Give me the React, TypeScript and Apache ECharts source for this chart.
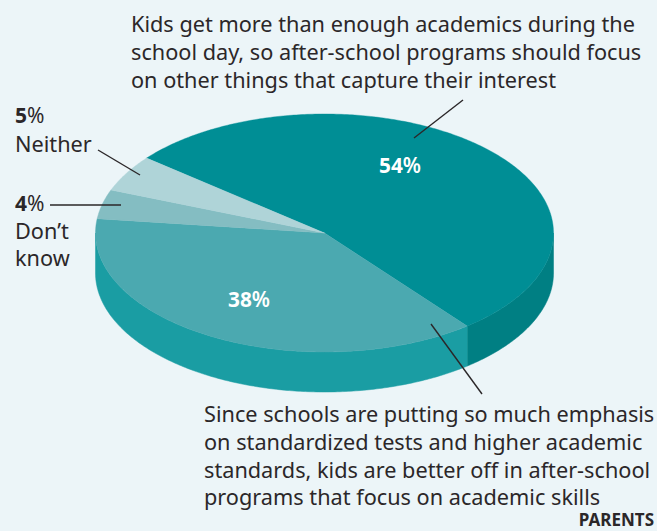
import React, { useEffect, useRef } from "react";
import * as echarts from "echarts";

const categories = ["Focus on other things", "Focus on academic skills", "Don't know", "Neither"];
const shares = [54, 38, 4, 5];
const topColors = ["#008e95", "#4ba9b0", "#84bdc2", "#afd4d8"];
const wallColors = ["#007f83", "#1a9da3", "#1a9da3", "#1a9da3"];

const topLabel = "Kids get more than enough academics during the\nschool day, so after-school programs should focus\non other things that capture their interest";
const bottomLabel = "Since schools are putting so much emphasis\non standardized tests and higher academic\nstandards, kids are better off in after-school\nprograms that focus on academic skills";

const CX = 324.5, CY = 233, RX = 229, RY = 119, DEPTH = 40;
const FIRST_ANGLE = 219; // clockwise on screen, degrees from the +x axis
const FONT = "'Noto Sans', sans-serif";
const INK = "#2b2729";
const TEXT_SIZE = 21.7;

const total = shares.reduce((a, b) => a + b, 0);

function pt(deg: number, dy = 0): number[] {
  const r = (deg * Math.PI) / 180;
  return [CX + RX * Math.cos(r), CY + RY * Math.sin(r) + dy];
}

function arcPts(a0: number, a1: number, dy = 0): number[][] {
  const n = Math.max(2, Math.ceil(Math.abs(a1 - a0) * 1.5));
  const out: number[][] = [];
  for (let i = 0; i <= n; i++) out.push(pt(a0 + ((a1 - a0) * i) / n, dy));
  return out;
}

function sliceRange(index: number): number[] {
  let start = FIRST_ANGLE;
  for (let i = 0; i < index; i++) start += (shares[i] / total) * 360;
  return [start, start + (shares[index] / total) * 360];
}

function renderWall(params: any, api: any) {
  const i = params.dataIndex;
  const share = api.value(0);
  const [a0] = sliceRange(i);
  const a1 = a0 + (share / total) * 360;
  const children: any[] = [];
  // only the part of the rim facing the viewer (0..180 degrees, mod 360) shows
  for (const k of [0, 360, 720]) {
    const lo = Math.max(a0, k), hi = Math.min(a1, k + 180);
    if (hi > lo) {
      children.push({
        type: "polygon",
        shape: { points: [...arcPts(lo, hi), ...arcPts(hi, lo, DEPTH)] },
        style: { fill: wallColors[i], stroke: wallColors[i], lineWidth: 0.5 },
      });
    }
  }
  return { type: "group", children };
}

function renderTop(params: any, api: any) {
  const i = params.dataIndex;
  const share = api.value(0);
  const [a0] = sliceRange(i);
  const a1 = a0 + (share / total) * 360;
  return {
    type: "polygon",
    shape: { points: [[CX, CY], ...arcPts(a0, a1)] },
    style: { fill: topColors[i], stroke: topColors[i], lineWidth: 0.4 },
  };
}

const seriesData = categories.map((name, i) => ({ name, value: [shares[i]] }));

const leader = (x1: number, y1: number, x2: number, y2: number) => ({
  type: "line",
  z: 20,
  shape: { x1, y1, x2, y2 },
  style: { stroke: "#2b2729", lineWidth: 1.4 },
});

const para = (text: string, x: number, y: number, lineHeight = 27.7) => ({
  type: "text",
  z: 20,
  x,
  y,
  style: { text, fill: INK, font: `${TEXT_SIZE}px ${FONT}`, lineHeight, textVerticalAlign: "top" },
});

const pct = (v: number, x: number, y: number) => ({
  type: "text",
  z: 20,
  x,
  y,
  style: {
    text: `{b|${v}}{r|%}`,
    rich: {
      b: { font: `bold 21px ${FONT}`, fill: INK },
      r: { font: `21px ${FONT}`, fill: INK },
    },
  },
});

const inner = (v: number, x: number, y: number) => ({
  type: "text",
  z: 20,
  x,
  y,
  style: {
    text: `{b|${v}}{m|%}`,
    rich: {
      b: { font: `bold 20.8px ${FONT}`, fill: "#ffffff" },
      m: { font: `600 20.8px ${FONT}`, fill: "#ffffff" },
    },
  },
});

export default function App() {
  const ref = useRef<HTMLDivElement>(null);
  useEffect(() => {
    const chart = echarts.init(ref.current!, undefined, { renderer: "svg" });
    chart.setOption({
      animation: false,
      backgroundColor: "#ecf5f8",
      series: [
        { type: "custom", coordinateSystem: "none", renderItem: renderWall, data: seriesData, z: 1, silent: true },
        { type: "custom", coordinateSystem: "none", renderItem: renderTop, data: seriesData, z: 2, silent: true },
      ],
      graphic: [
        para(topLabel, 131, 10),
        para(bottomLabel, 204, 400),
        pct(shares[3], 15, 104),
        para("Neither", 15, 130),
        pct(shares[2], 15, 192),
        para("Don\u2019t\nknow", 15, 217, 27),
        inner(shares[0], 379, 154),
        inner(shares[1], 228, 288),
        leader(414, 138, 463, 100),
        leader(98, 150, 140, 175),
        leader(50, 205, 121, 205),
        leader(431, 324, 482, 394),
        {
          type: "text",
          z: 20,
          x: 654,
          y: 511,
          style: { text: "PARENTS", fill: INK, font: `bold 17px ${FONT}`, lineHeight: 16, textAlign: "right" },
        },
      ],
    });
    return () => chart.dispose();
  }, []);
  return <div ref={ref} style={{ position: "fixed", left: 0, top: 0, width: 657, height: 531 }} />;
}
